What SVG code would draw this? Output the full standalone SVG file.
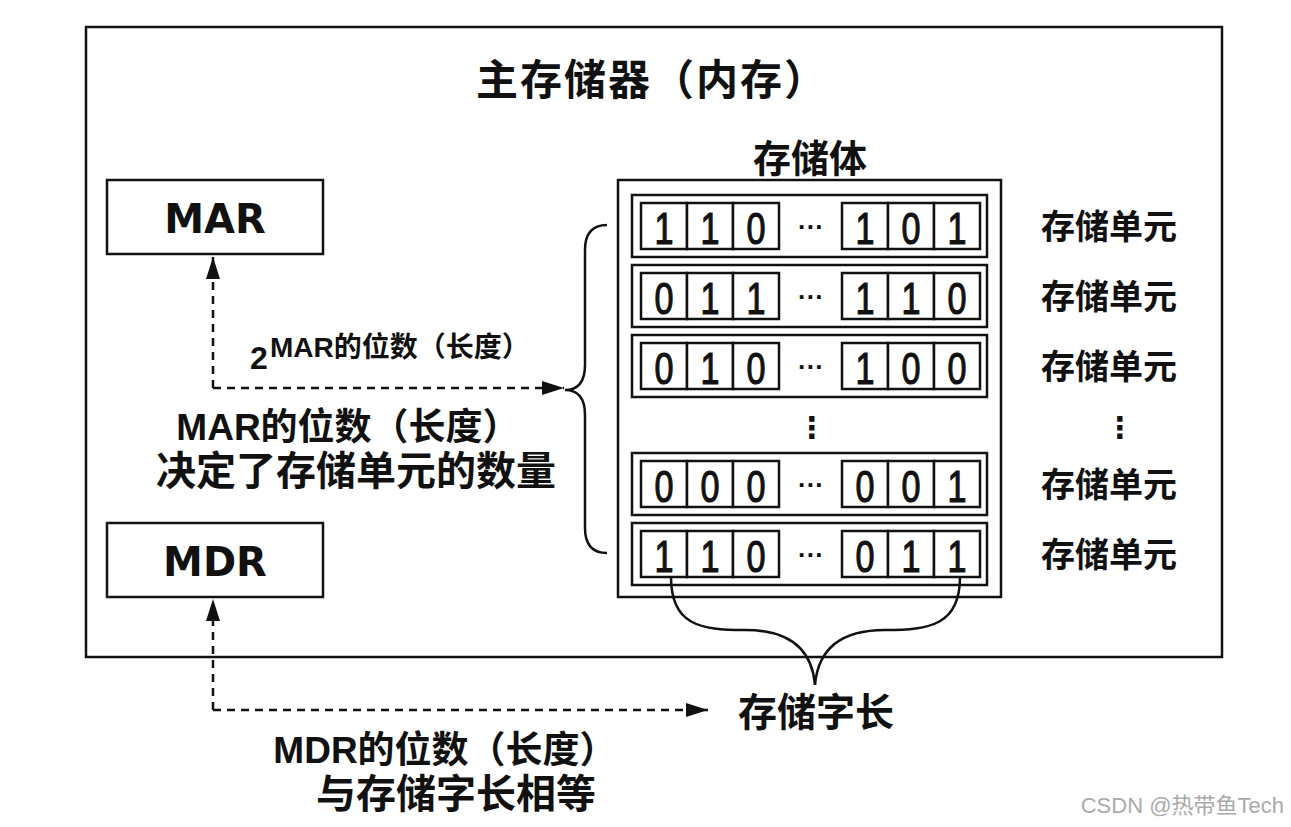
<svg xmlns="http://www.w3.org/2000/svg" width="1291" height="827" viewBox="0 0 1291 827">
<style>
.box{fill:#fff;stroke:#111;stroke-width:2.5}
.cell{fill:#fff;stroke:#111;stroke-width:2.5}
.line{fill:none;stroke:#111;stroke-width:2.5}
.dash{fill:none;stroke:#111;stroke-width:2.5;stroke-dasharray:8 6}
.cjk{font-family:"Liberation Sans","Noto Sans CJK SC",sans-serif;font-weight:bold;fill:#111}
.reg{font-family:"DejaVu Sans","Liberation Sans",sans-serif;font-weight:bold;fill:#111}
.bit{font-family:"Liberation Sans",Arial,sans-serif;font-size:45px;fill:#111;stroke:#111;stroke-width:1.2;text-anchor:middle}
.dots{font-family:"Liberation Sans",sans-serif;font-size:26px;font-weight:bold;fill:#111;text-anchor:middle}
.vd{font-family:"DejaVu Sans",sans-serif;font-size:30px;font-weight:bold;fill:#111;text-anchor:middle}
.unit{font-size:34px;text-anchor:middle}
</style>
<defs>
<marker id="ah" markerUnits="userSpaceOnUse" markerWidth="24" markerHeight="14" refX="22" refY="7" orient="auto">
<path d="M0,0 L22,7 L0,14 Z" fill="#111"/>
</marker>
<g id="row">
<rect class="box" x="632" y="0" width="355" height="62"/>
<rect class="cell" x="641" y="8" width="46" height="46"/>
<rect class="cell" x="687" y="8" width="46" height="46"/>
<rect class="cell" x="733" y="8" width="46" height="46"/>
<rect class="cell" x="842" y="8" width="46" height="46"/>
<rect class="cell" x="888" y="8" width="46" height="46"/>
<rect class="cell" x="934" y="8" width="46" height="46"/>
<text class="dots" x="811" y="41">···</text>
</g>
</defs>
<rect width="1291" height="827" fill="#fff"/>

<g id="main-memory">
<rect class="box" x="86" y="27" width="1136" height="630"/>
<text class="cjk" x="652" y="95" font-size="42" letter-spacing="2" text-anchor="middle">主存储器（内存）</text>
</g>

<g id="mar">
<rect class="box" x="107" y="180" width="216" height="74"/>
<text class="reg" x="215" y="233" font-size="40" text-anchor="middle">MAR</text>
</g>

<g id="mdr">
<rect class="box" x="107" y="523" width="216" height="74"/>
<text class="reg" x="215" y="576" font-size="40" text-anchor="middle">MDR</text>
</g>

<g id="storage-body">
<text class="cjk" x="810" y="172" font-size="38" text-anchor="middle">存储体</text>
<rect class="box" x="618" y="180" width="383" height="417"/>
<g id="unit1">
<use href="#row" y="195"/>
<g transform="translate(0,195)">
<text class="bit" x="664" y="49" textLength="19" lengthAdjust="spacingAndGlyphs">1</text><text class="bit" x="710" y="49" textLength="19" lengthAdjust="spacingAndGlyphs">1</text><text class="bit" x="756" y="49" textLength="19" lengthAdjust="spacingAndGlyphs">0</text>
<text class="bit" x="865" y="49" textLength="19" lengthAdjust="spacingAndGlyphs">1</text><text class="bit" x="911" y="49" textLength="19" lengthAdjust="spacingAndGlyphs">0</text><text class="bit" x="957" y="49" textLength="19" lengthAdjust="spacingAndGlyphs">1</text>
</g>
</g>
<g id="unit2">
<use href="#row" y="265"/>
<g transform="translate(0,265)">
<text class="bit" x="664" y="49" textLength="19" lengthAdjust="spacingAndGlyphs">0</text><text class="bit" x="710" y="49" textLength="19" lengthAdjust="spacingAndGlyphs">1</text><text class="bit" x="756" y="49" textLength="19" lengthAdjust="spacingAndGlyphs">1</text>
<text class="bit" x="865" y="49" textLength="19" lengthAdjust="spacingAndGlyphs">1</text><text class="bit" x="911" y="49" textLength="19" lengthAdjust="spacingAndGlyphs">1</text><text class="bit" x="957" y="49" textLength="19" lengthAdjust="spacingAndGlyphs">0</text>
</g>
</g>
<g id="unit3">
<use href="#row" y="335"/>
<g transform="translate(0,335)">
<text class="bit" x="664" y="49" textLength="19" lengthAdjust="spacingAndGlyphs">0</text><text class="bit" x="710" y="49" textLength="19" lengthAdjust="spacingAndGlyphs">1</text><text class="bit" x="756" y="49" textLength="19" lengthAdjust="spacingAndGlyphs">0</text>
<text class="bit" x="865" y="49" textLength="19" lengthAdjust="spacingAndGlyphs">1</text><text class="bit" x="911" y="49" textLength="19" lengthAdjust="spacingAndGlyphs">0</text><text class="bit" x="957" y="49" textLength="19" lengthAdjust="spacingAndGlyphs">0</text>
</g>
</g>
<text class="vd" x="812" y="438">⋮</text>
<g id="unit4">
<use href="#row" y="453"/>
<g transform="translate(0,453)">
<text class="bit" x="664" y="49" textLength="19" lengthAdjust="spacingAndGlyphs">0</text><text class="bit" x="710" y="49" textLength="19" lengthAdjust="spacingAndGlyphs">0</text><text class="bit" x="756" y="49" textLength="19" lengthAdjust="spacingAndGlyphs">0</text>
<text class="bit" x="865" y="49" textLength="19" lengthAdjust="spacingAndGlyphs">0</text><text class="bit" x="911" y="49" textLength="19" lengthAdjust="spacingAndGlyphs">0</text><text class="bit" x="957" y="49" textLength="19" lengthAdjust="spacingAndGlyphs">1</text>
</g>
</g>
<g id="unit5">
<use href="#row" y="523"/>
<g transform="translate(0,523)">
<text class="bit" x="664" y="49" textLength="19" lengthAdjust="spacingAndGlyphs">1</text><text class="bit" x="710" y="49" textLength="19" lengthAdjust="spacingAndGlyphs">1</text><text class="bit" x="756" y="49" textLength="19" lengthAdjust="spacingAndGlyphs">0</text>
<text class="bit" x="865" y="49" textLength="19" lengthAdjust="spacingAndGlyphs">0</text><text class="bit" x="911" y="49" textLength="19" lengthAdjust="spacingAndGlyphs">1</text><text class="bit" x="957" y="49" textLength="19" lengthAdjust="spacingAndGlyphs">1</text>
</g>
</g>
</g>

<g id="unit-labels" class="cjk">
<text class="unit" x="1109" y="239">存储单元</text>
<text class="unit" x="1109" y="309">存储单元</text>
<text class="unit" x="1109" y="379">存储单元</text>
<text class="vd" x="1120" y="438">⋮</text>
<text class="unit" x="1109" y="497">存储单元</text>
<text class="unit" x="1109" y="567">存储单元</text>
</g>

<g id="connectors">
<path class="line" d="M607,225 Q585,225 585,250 L585,365 Q585,390 565,390 Q585,390 585,415 L585,528 Q585,553 607,553"/>
<path class="line" d="M671,577 C671,625 700,630 745,630 C790,630 812,650 815,685"/>
<path class="line" d="M960,577 C960,625 930,630 885,630 C840,630 818,650 815,685"/>
<path class="dash" d="M213,388 L213,257" marker-end="url(#ah)"/>
<path class="dash" d="M213,388 L564,388" marker-end="url(#ah)"/>
<path class="dash" d="M213,710 L213,599" marker-end="url(#ah)"/>
<path class="dash" d="M213,710 L708,710" marker-end="url(#ah)"/>
</g>

<g id="labels" class="cjk">
<text x="250" y="369" font-size="32">2</text>
<text x="270" y="357" font-size="28">MAR的位数（长度）</text>
<text x="348" y="440" font-size="37" text-anchor="middle">MAR的位数（长度）</text>
<text x="356" y="485" font-size="40" text-anchor="middle">决定了存储单元的数量</text>
<text x="816" y="726" font-size="39" text-anchor="middle">存储字长</text>
<text x="445" y="763" font-size="37" text-anchor="middle">MDR的位数（长度）</text>
<text x="456" y="808" font-size="40" text-anchor="middle">与存储字长相等</text>
</g>

<text x="1284" y="813" font-family="'Liberation Sans','Noto Sans CJK SC',sans-serif" font-size="22" fill="#aaa" text-anchor="end">CSDN @热带鱼Tech</text>
</svg>
